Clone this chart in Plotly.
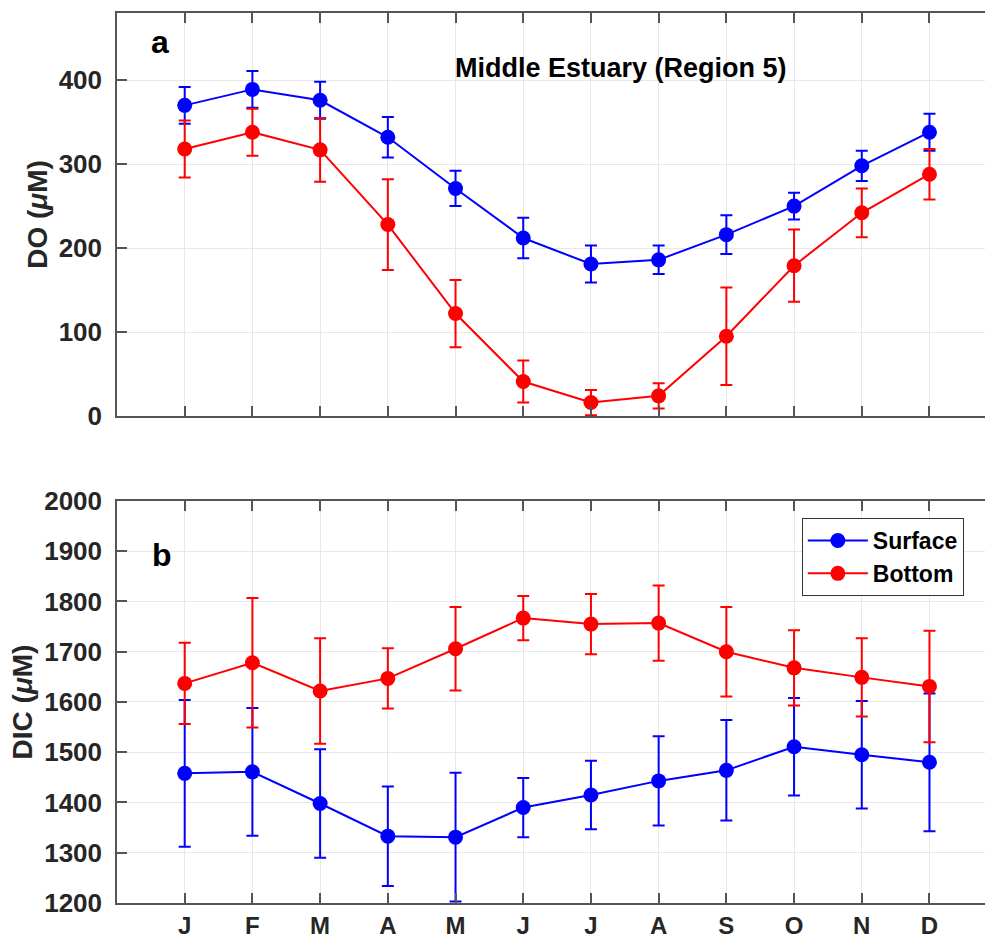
import plotly.graph_objects as go

months = ["J", "F", "M", "A", "M", "J", "J", "A", "S", "O", "N", "D"]
month_pos = list(range(1, 13))

do_surface = [370, 389, 376, 332, 271, 212, 181, 186, 216, 250, 298, 338]
do_surface_err = [22, 22, 22, 24, 21, 24, 22, 17, 23, 16, 18, 22]
do_bottom = [318, 338, 317, 228, 122, 41, 16, 24, 95, 179, 242, 288]
do_bottom_err = [34, 28, 38, 54, 40, 25, 15, 15, 58, 43, 29, 30]

dic_surface = [1458, 1461, 1398, 1333, 1331, 1390, 1415, 1443, 1464, 1511, 1495, 1480]
dic_surface_err = [146, 127, 108, 99, 128, 59, 68, 89, 100, 97, 107, 137]
dic_bottom = [1637, 1678, 1622, 1647, 1706, 1767, 1755, 1757, 1700, 1668, 1649, 1631]
dic_bottom_err = [81, 129, 105, 60, 83, 44, 60, 75, 89, 75, 78, 111]

BLUE = "#0000ff"
RED = "#ff0000"
FONT = "Liberation Sans, Arial, sans-serif"
AXC = "#555555"
TXT = "#262626"


def trace(x, y, err, color, name, xa, ya, show):
    return go.Scatter(
        x=x, y=y, name=name, mode="lines+markers",
        line=dict(color=color, width=2),
        marker=dict(color=color, size=15, symbol="circle"),
        error_y=dict(type="data", array=err, visible=True, color=color,
                     thickness=2, width=6),
        xaxis=xa, yaxis=ya, showlegend=show,
    )


fig = go.Figure()
fig.add_trace(trace(month_pos, do_surface, do_surface_err, BLUE, "Surface", "x", "y", False))
fig.add_trace(trace(month_pos, do_bottom, do_bottom_err, RED, "Bottom", "x", "y", False))
fig.add_trace(trace(month_pos, dic_surface, dic_surface_err, BLUE, "Surface", "x2", "y2", True))
fig.add_trace(trace(month_pos, dic_bottom, dic_bottom_err, RED, "Bottom", "x2", "y2", True))

axis_common = dict(
    showline=True, linecolor=AXC, linewidth=1.5, automargin=False,
    ticks="inside", ticklen=10, tickwidth=1.5, tickcolor=AXC,
    showgrid=True, gridcolor="#e8e8e8", gridwidth=1, zeroline=False,
    tickfont=dict(family=FONT, size=26, color=TXT, weight="bold"),
)
title_font = dict(family=FONT, size=28, color=TXT, weight="bold")

fig.update_layout(
    width=985, height=944,
    margin=dict(l=117, r=0, t=13, b=41),
    plot_bgcolor="white", paper_bgcolor="white",
    xaxis=dict(axis_common, mirror="ticks", domain=[0, 1], anchor="y", range=[0, 12.82],
               tickvals=month_pos, showticklabels=False),
    yaxis=dict(axis_common, mirror=False, domain=[0.5472, 1], anchor="x", range=[0, 480],
               tickvals=[0, 100, 200, 300, 400], ticklabelstandoff=8,
               title=dict(text="DO (<i>μ</i>M)", standoff=3, font=title_font)),
    xaxis2=dict(axis_common, mirror="ticks", domain=[0, 1], anchor="y2", range=[0, 12.82],
                tickvals=month_pos, ticktext=months, ticklabelstandoff=0,
                tickfont=dict(family=FONT, size=24, color=TXT, weight="bold")),
    yaxis2=dict(axis_common, mirror=False, domain=[0, 0.4517], anchor="x2", range=[1200, 2000],
                tickvals=list(range(1200, 2001, 100)), ticklabelstandoff=8,
                title=dict(text="DIC (<i>μ</i>M)", standoff=3, font=title_font)),
    legend=dict(x=0.789, y=0.4326, xanchor="left", yanchor="top",
                bgcolor="white", bordercolor="#333333", borderwidth=1,
                font=dict(family=FONT, size=23, color="black", weight="bold"),
                itemwidth=60, tracegroupgap=0),
    annotations=[
        dict(text="a", x=0.64, y=445, xref="x", yref="y", showarrow=False,
             font=dict(family=FONT, size=32, color="black", weight="bold")),
        dict(text="Middle Estuary (Region 5)", x=7.44, y=414, xref="x", yref="y",
             showarrow=False,
             font=dict(family=FONT, size=27, color="black", weight="bold")),
        dict(text="b", x=0.66, y=1892, xref="x2", yref="y2", showarrow=False,
             font=dict(family=FONT, size=32, color="black", weight="bold")),
    ],
)

fig.write_html("out.html")
